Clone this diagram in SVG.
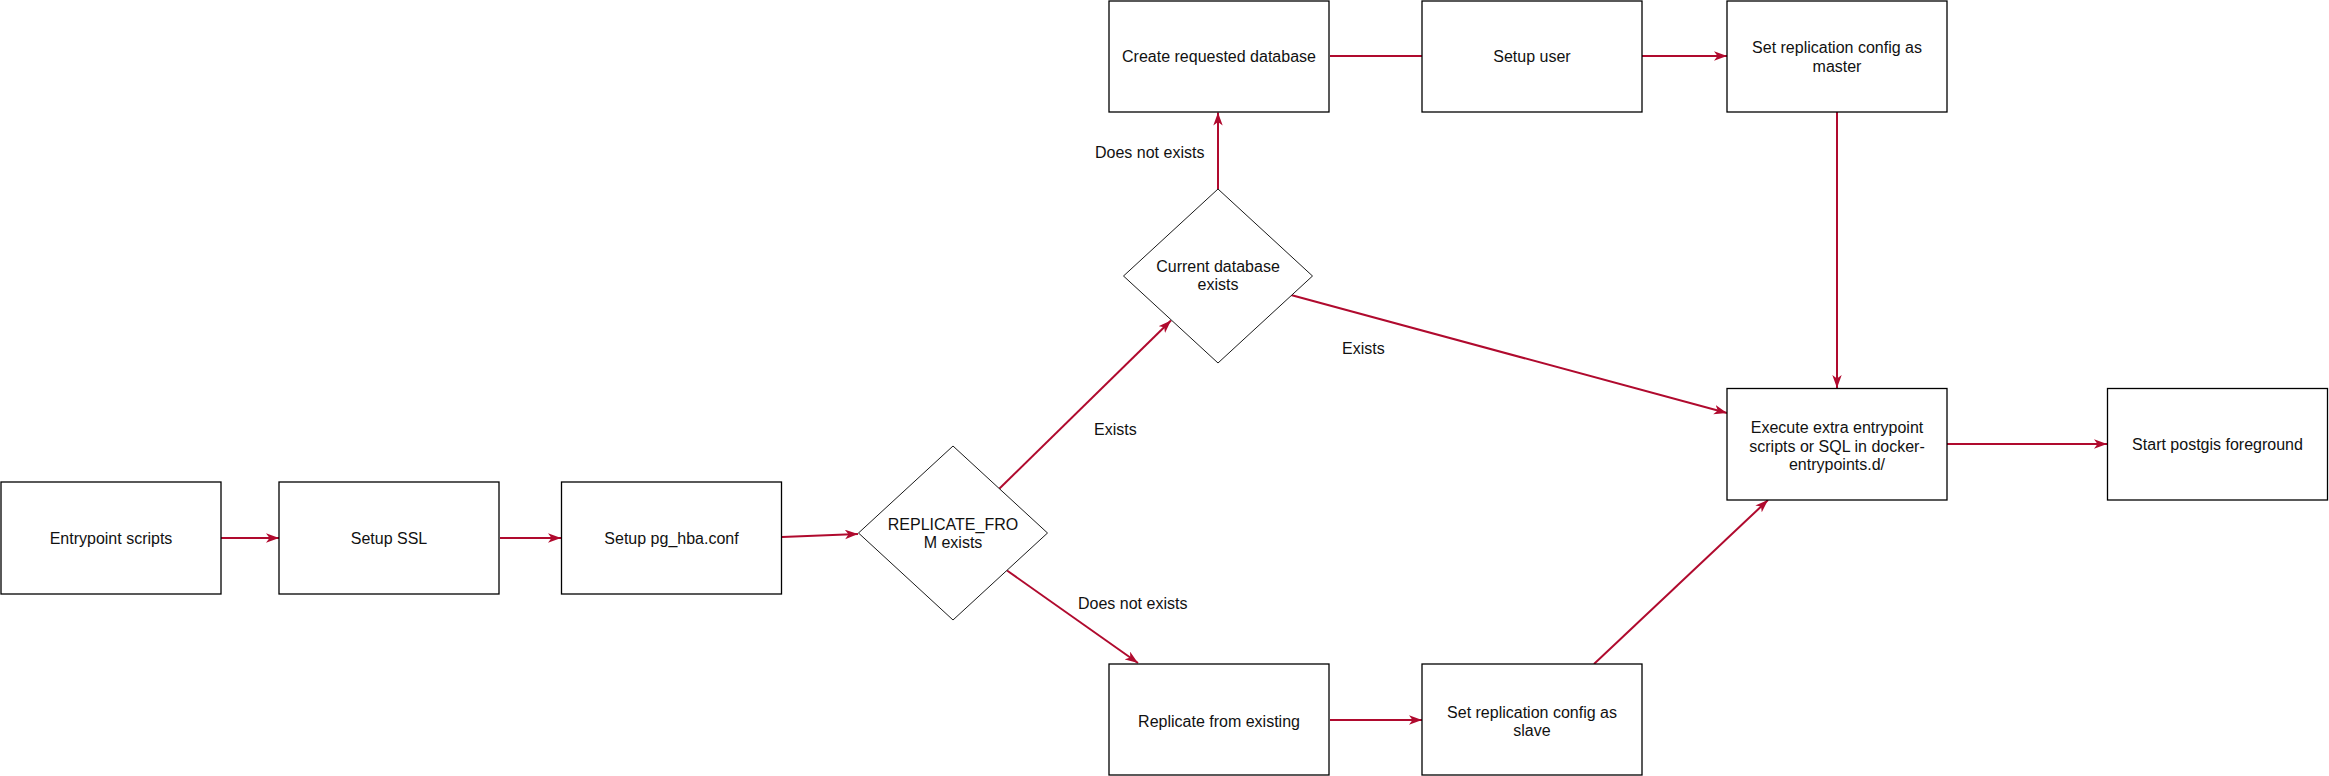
<svg xmlns="http://www.w3.org/2000/svg" width="2329" height="776" viewBox="0 0 2329 776">
<style>
.box{fill:#ffffff;stroke:#000000;stroke-width:1.3}
.dia{fill:#ffffff;stroke:#1a1a1a;stroke-width:1}
.t{font-family:"Liberation Sans",Arial,sans-serif;font-size:16px;fill:#111111;text-anchor:middle;dominant-baseline:central}
.lbl{font-family:"Liberation Sans",Arial,sans-serif;font-size:16px;fill:#111111;dominant-baseline:central}
.c{fill:none;stroke:#B00A2E;stroke-width:2}
.a{marker-end:url(#arr)}
</style>
<defs>
<marker id="arr" markerUnits="userSpaceOnUse" markerWidth="14" markerHeight="10" refX="13" refY="4.7" orient="auto">
<path d="M0,0 L13,4.7 L0,9.4 L3.5,4.7 Z" fill="#B00A2E"/>
</marker>
</defs>
<rect width="2329" height="776" fill="#ffffff"/>
<g id="connectors">
<line class="c a" x1="221" y1="538" x2="279" y2="538"/>
<line class="c a" x1="500" y1="538" x2="561" y2="538"/>
<line class="c a" x1="782" y1="537" x2="858" y2="534"/>
<line class="c a" x1="999" y1="489" x2="1171" y2="320.5"/>
<line class="c a" x1="1007" y1="570.5" x2="1138" y2="663"/>
<line class="c a" x1="1218" y1="189" x2="1218" y2="112.5"/>
<line class="c" x1="1330" y1="56" x2="1422" y2="56"/>
<line class="c a" x1="1642" y1="56" x2="1727" y2="56"/>
<line class="c a" x1="1837" y1="112" x2="1837" y2="388"/>
<line class="c a" x1="1291" y1="295" x2="1727" y2="413"/>
<line class="c a" x1="1330" y1="720" x2="1422" y2="720"/>
<line class="c a" x1="1594" y1="664" x2="1768" y2="500"/>
<line class="c a" x1="1947" y1="444" x2="2107" y2="444"/>
<text class="lbl" x="1095" y="152">Does not exists</text>
<text class="lbl" x="1094" y="429">Exists</text>
<text class="lbl" x="1342" y="348">Exists</text>
<text class="lbl" x="1078" y="603">Does not exists</text>
</g>
<g id="entrypoint">
<rect class="box" x="1" y="482" width="220" height="112"/>
<text class="t" x="111" y="538">Entrypoint scripts</text>
</g>
<g id="setup-ssl">
<rect class="box" x="279" y="482" width="220" height="112"/>
<text class="t" x="389" y="538">Setup SSL</text>
</g>
<g id="setup-hba">
<rect class="box" x="561.5" y="482" width="220" height="112"/>
<text class="t" x="671.5" y="538">Setup pg_hba.conf</text>
</g>
<g id="replicate-from-exists">
<polygon class="dia" points="953,446 1047.5,533 953,620 858.5,533"/>
<text class="t" x="953" y="524">REPLICATE_FRO</text>
<text class="t" x="953" y="542">M exists</text>
</g>
<g id="current-db-exists">
<polygon class="dia" points="1218,189 1312.5,276 1218,363 1123.5,276"/>
<text class="t" x="1218" y="266">Current database</text>
<text class="t" x="1218" y="284">exists</text>
</g>
<g id="create-db">
<rect class="box" x="1109" y="1" width="220" height="111"/>
<text class="t" x="1219" y="56">Create requested database</text>
</g>
<g id="setup-user">
<rect class="box" x="1422" y="1" width="220" height="111"/>
<text class="t" x="1532" y="56">Setup user</text>
</g>
<g id="master-config">
<rect class="box" x="1727" y="1" width="220" height="111"/>
<text class="t" x="1837" y="47.5">Set replication config as</text>
<text class="t" x="1837" y="66.5">master</text>
</g>
<g id="execute-extra">
<rect class="box" x="1727" y="388.5" width="220" height="111.5"/>
<text class="t" x="1837" y="427.5">Execute extra entrypoint</text>
<text class="t" x="1837" y="446">scripts or SQL in docker-</text>
<text class="t" x="1837" y="464.5">entrypoints.d/</text>
</g>
<g id="start-postgis">
<rect class="box" x="2107.5" y="388.5" width="220" height="111.5"/>
<text class="t" x="2217.5" y="444">Start postgis foreground</text>
</g>
<g id="replicate-existing">
<rect class="box" x="1109" y="664" width="220" height="111"/>
<text class="t" x="1219" y="721">Replicate from existing</text>
</g>
<g id="slave-config">
<rect class="box" x="1422" y="664" width="220" height="111"/>
<text class="t" x="1532" y="712">Set replication config as</text>
<text class="t" x="1532" y="730.5">slave</text>
</g>
</svg>
